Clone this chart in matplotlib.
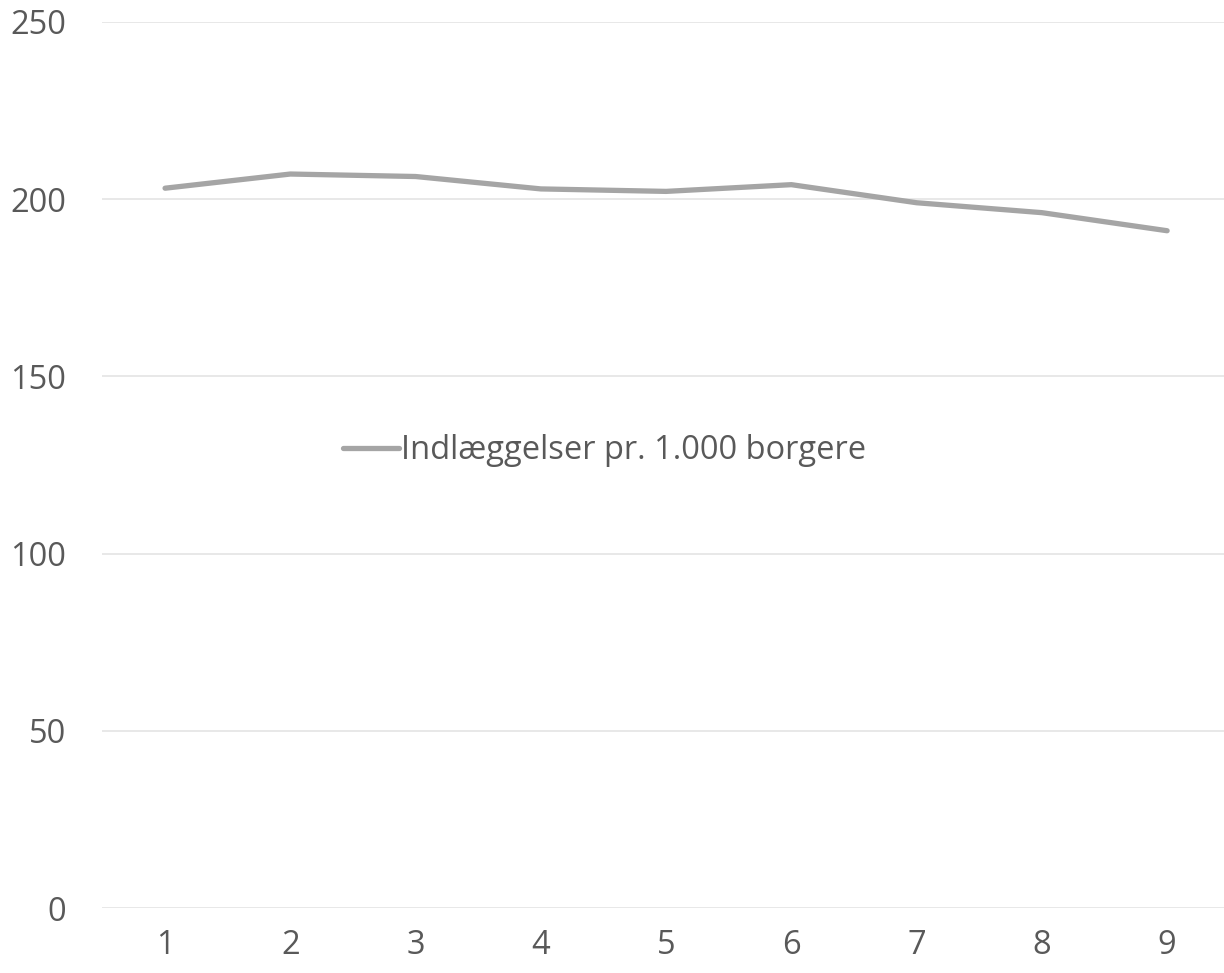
import matplotlib
matplotlib.use("Agg")
import matplotlib.pyplot as plt

categories = [1, 2, 3, 4, 5, 6, 7, 8, 9]
values = [203.1, 207.1, 206.4, 202.9, 202.2, 204.1, 199.0, 196.2, 191.1]
series_label = "Indlæggelser pr. 1.000 borgere"
y_ticks = [0, 50, 100, 150, 200, 250]

plt.rcParams["font.family"] = ["Open Sans", "DejaVu Sans"]

fig = plt.figure(figsize=(12.24, 9.73), dpi=100)
ax = fig.add_axes([0.0837, 0.0668, 0.9210, 0.9106])

ax.plot(categories, values, color="#A5A5A5", linewidth=3.8,
        solid_capstyle="round", solid_joinstyle="round", label=series_label)

ax.set_xlim(0.5, 9.5)
ax.set_ylim(0, 250)
ax.set_yticks(y_ticks)
ax.set_xticks(categories)
ax.grid(axis="y", color="#E6E6E6", linewidth=1.3)
ax.set_axisbelow(True)
for s in ax.spines.values():
    s.set_visible(False)
ax.tick_params(axis="both", length=0, labelsize=23.5, labelcolor="#595959")
ax.tick_params(axis="y", pad=26)
ax.tick_params(axis="x", pad=15)

leg = ax.legend(loc="center", bbox_to_anchor=(0.494, 0.537), bbox_transform=fig.transFigure,
                frameon=False, fontsize=23.5, handlelength=1.7, handletextpad=0.08)
for t in leg.get_texts():
    t.set_color("#595959")

fig.savefig("out.png", dpi=100)
